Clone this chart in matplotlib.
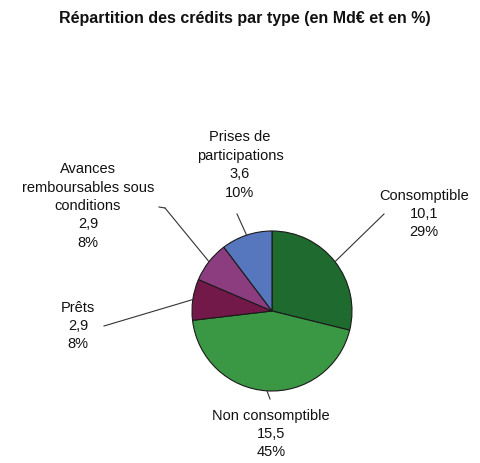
import numpy as np
import matplotlib.pyplot as plt

plt.rcParams['font.family'] = ['Liberation Sans', 'DejaVu Sans']

# donnees
categories = ['Consomptible', 'Non consomptible', 'Prêts',
              'Avances\nremboursables sous\nconditions', 'Prises de\nparticipations']
montants = [10.1, 15.5, 2.9, 2.9, 3.6]
pourcentages = ['29%', '45%', '8%', '8%', '10%']
couleurs = ['#1f6a2e', '#3a9845', '#73194a', '#8c3d7f', '#5676bd']

# position des etiquettes (en pixels, y depuis le haut) et point de coude
etiquettes_pos = [(424, 214), (271, 434), (78, 326), (88, 206), (240, 165)]
coudes = [(384, 215), (270, 400), (104, 327), (165, 209), (237, 215)]

W, H = 481, 464
fig = plt.figure(figsize=(W / 100, H / 100), dpi=100)
ax = fig.add_axes([0, 0, 1, 1])

centre = (272, H - 312)
rayon = 80
wedges, _ = ax.pie(montants, colors=couleurs, startangle=90, counterclock=False,
                   center=centre, radius=rayon, frame=True,
                   wedgeprops=dict(edgecolor='#1a1a1a', linewidth=0.8))
ax.set_xlim(0, W)
ax.set_ylim(0, H)
ax.set_aspect('equal')
ax.axis('off')

for w, cat, val, pct, (tx, ty), (cx, cy) in zip(wedges, categories, montants,
                                                pourcentages, etiquettes_pos, coudes):
    ang = np.deg2rad((w.theta1 + w.theta2) / 2)
    px = centre[0] + rayon * np.cos(ang)
    py = centre[1] + rayon * np.sin(ang)
    ax.plot([px, cx], [py, H - cy], color='#333333', lw=0.8)
    if cat.startswith('Avances'):
        ax.plot([cx, cx - 6], [H - cy, H - cy + 1], color='#333333', lw=0.8)
    texte = f"{cat}\n{str(val).replace('.', ',')}\n{pct}"
    ax.text(tx, H - ty, texte, ha='center', va='center', fontsize=10.5,
            linespacing=1.4, color='#111111')

fig.text(245 / W, 1 - 18 / H, 'Répartition des crédits par type (en Md€ et en %)',
         ha='center', va='center', fontsize=11.5, fontweight='bold', color='#111111')

fig.savefig('out.png', dpi=100)
